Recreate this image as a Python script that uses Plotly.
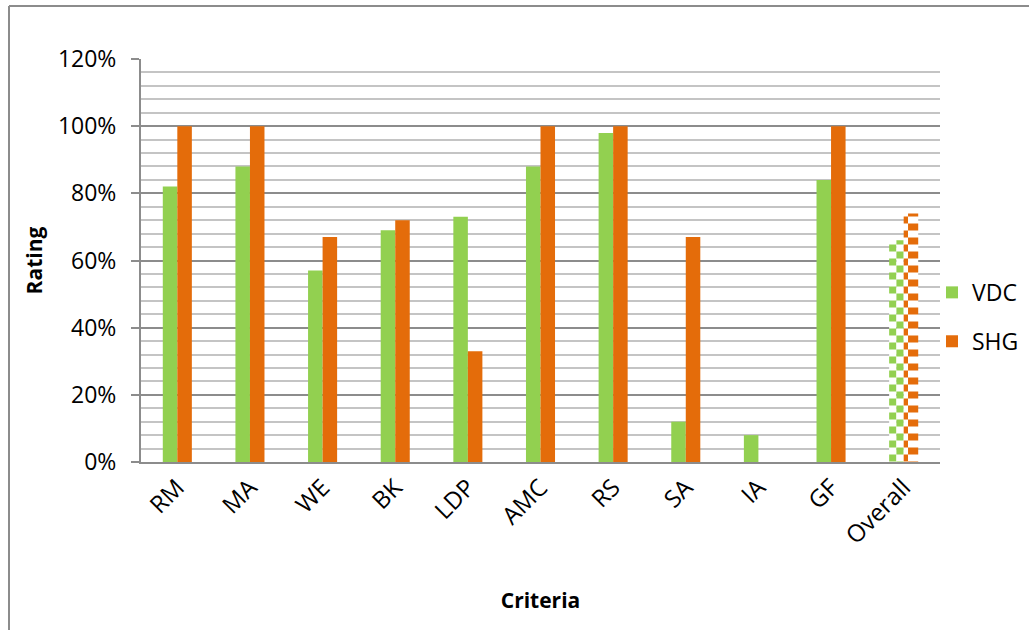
import plotly.graph_objects as go

# Criteria ratings for the two groups
categories = ["RM", "MA", "WE", "BK", "LDP", "AMC", "RS", "SA", "IA", "GF"]
overall_label = "Overall"
vdc_values = [0.82, 0.88, 0.57, 0.69, 0.73, 0.88, 0.98, 0.12, 0.08, 0.84]
shg_values = [1.00, 1.00, 0.67, 0.72, 0.33, 1.00, 1.00, 0.67, 0.00, 1.00]
vdc_overall = [0.66]
shg_overall = [0.74]

GREEN = "#92D050"
ORANGE = "#E46C0A"
FONT = "Open Sans"

all_categories = categories + [overall_label]

fig = go.Figure()

# Regular criteria bars
fig.add_trace(go.Bar(name="VDC", x=categories, y=vdc_values,
                     marker=dict(color=GREEN, line=dict(width=0)),
                     width=0.2, offset=-0.2, legendgroup="vdc"))
fig.add_trace(go.Bar(name="SHG", x=categories, y=shg_values,
                     marker=dict(color=ORANGE, line=dict(width=0)),
                     width=0.2, offset=0.0, legendgroup="shg"))


def checker_half(x, y, color, offset, width, inverted):
    """One column of a checkered bar: horizontal stripes, phase-inverted for the second column."""
    fg, bg = (color, "white") if not inverted else ("white", color)
    return go.Bar(x=x, y=y, width=width, offset=offset, showlegend=False,
                  hoverinfo="skip",
                  marker=dict(color=bg, line=dict(width=0),
                              pattern=dict(shape="-", size=14, solidity=0.5,
                                           fgcolor=fg, bgcolor=bg,
                                           fillmode="replace")))


# Overall bars drawn with a checkerboard fill
fig.add_trace(checker_half([overall_label], vdc_overall, GREEN, -0.2, 0.1, False))
fig.add_trace(checker_half([overall_label], vdc_overall, GREEN, -0.1, 0.1, True))
fig.add_trace(checker_half([overall_label], shg_overall, ORANGE, 0.0, 0.06, False))
fig.add_trace(checker_half([overall_label], shg_overall, ORANGE, 0.06, 0.14, True))

fig.update_layout(
    barmode="overlay",
    width=1029, height=630,
    margin=dict(l=141, r=89, t=59, b=168, autoexpand=False),
    paper_bgcolor="white", plot_bgcolor="white",
    font=dict(family=FONT, color="black"),
    showlegend=True,
    legend=dict(x=0.99, y=0.36, xanchor="left", yanchor="middle",
                font=dict(family=FONT, size=23, color="black"),
                tracegroupgap=16, itemwidth=30, bgcolor="rgba(0,0,0,0)"),
    shapes=[
        # chart frame (left and top edges)
        dict(type="line", xref="paper", yref="paper",
             x0=(9 - 141) / 799, x1=(9 - 141) / 799, y0=-1, y1=(462 - 6) / 403,
             line=dict(color="#8C8C8C", width=2)),
        dict(type="line", xref="paper", yref="paper",
             x0=(9 - 141) / 799, x1=2, y0=(462 - 6) / 403, y1=(462 - 6) / 403,
             line=dict(color="#8C8C8C", width=2)),
    ],
)

fig.update_xaxes(
    type="category", categoryorder="array", categoryarray=all_categories,
    range=[-0.5, len(all_categories) - 0.5],
    tickangle=-45, tickfont=dict(family=FONT, size=24, color="black"),
    showline=True, linecolor="#8C8C8C", linewidth=2,
    showgrid=False, ticks="",
    title=dict(text="<b>Criteria</b>", font=dict(family=FONT, size=21, color="black"),
               standoff=44),
)

fig.update_yaxes(
    range=[0, 1.2], dtick=0.2, tickformat=".0%",
    tickfont=dict(family=FONT, size=23, color="black"),
    ticklabelstandoff=10,
    showline=True, linecolor="#8C8C8C", linewidth=2,
    ticks="outside", ticklen=8, tickcolor="#8C8C8C", tickwidth=2,
    showgrid=True, gridcolor="#8C8C8C", gridwidth=2,
    minor=dict(dtick=0.04, showgrid=True, gridcolor="#C4C4C4", gridwidth=1.5),
    zeroline=False,
    title=dict(text="<b>Rating</b>", font=dict(family=FONT, size=21, color="black"),
               standoff=10),
)

fig.write_html("out.html")
